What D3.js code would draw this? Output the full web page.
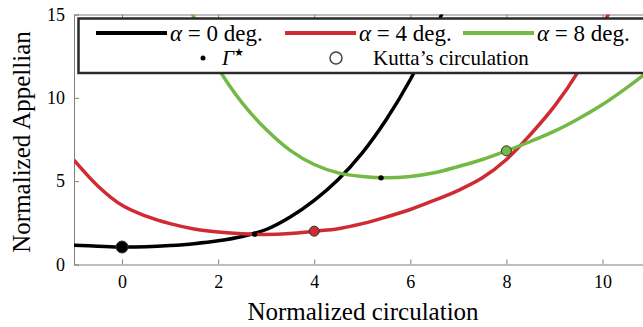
<!DOCTYPE html>
<html>
<head>
<meta charset="utf-8">
<script src="https://cdn.jsdelivr.net/npm/d3@7"></script>
<style>
  body { margin: 0; background: #fff; }
  svg { display: block; font-family: "Liberation Serif", "DejaVu Serif", serif; }
  .axis text { font-size: 18px; fill: #000; font-family: "Liberation Serif", serif; }
  .axis line, .axis path { stroke: #808080; }
</style>
</head>
<body>
<div id="chart"></div>
<script>
// values
const xTicks = [0, 2, 4, 6, 8, 10];
const yTicks = [0, 5, 10, 15];

const alpha0X = [-1, -0.5, 0, 0.5, 1, 1.5, 2, 2.5, 3, 3.5, 4, 4.5, 5, 5.5, 6, 6.5, 7];
const alpha0Y = [1.16, 1.1, 1.05, 1.07, 1.14, 1.25, 1.42, 1.68, 2.1, 2.85, 3.85, 5.1, 6.7, 8.7, 11.1, 14.0, 17.5];

const alpha4X = [-1, -0.5, 0, 0.5, 1, 1.5, 2, 2.5, 3, 3.5, 4, 4.5, 5, 5.5, 6, 6.5, 7, 7.5, 8, 8.5, 9, 9.5, 10, 10.5];
const alpha4Y = [6.26, 4.7, 3.55, 2.9, 2.45, 2.13, 1.95, 1.84, 1.8, 1.86, 2.0, 2.15, 2.45, 2.85, 3.3, 3.85, 4.45, 5.2, 6.3, 7.8, 9.5, 11.6, 14.3, 17.5];

const alpha8X = [1, 1.5, 2, 2.5, 3, 3.5, 4, 4.5, 5, 5.5, 6, 6.5, 7, 7.5, 8, 8.5, 9, 9.5, 10, 10.5, 11, 11.5];
const alpha8Y = [18, 14.8, 11.8, 9.7, 8.1, 6.85, 6.0, 5.5, 5.28, 5.2, 5.28, 5.5, 5.88, 6.3, 6.82, 7.38, 8.0, 8.75, 9.6, 10.6, 11.7, 12.9];

const seriesNames = ['α = 0 deg.', 'α = 4 deg.', 'α = 8 deg.'];
const seriesColors = ['#000000', '#d02a33', '#73b944'];

// Gamma* (small dots) and Kutta's circulation (circles)
const gammaStarX = [0, 2.76, 5.39];
const gammaStarY = [1.05, 1.82, 5.2];
const kuttaX = [0, 4, 8];
const kuttaY = [1.05, 2.0, 6.82];

const width = 643;
const height = 327;

const x = d3.scaleLinear().domain([-1, 11.5]).range([74, 674.6]);
const y = d3.scaleLinear().domain([0, 15]).range([264.5, 14.5]);

const svg = d3.select('#chart').append('svg')
  .attr('width', width)
  .attr('height', height);

svg.append('clipPath').attr('id', 'plot-clip')
  .append('rect')
  .attr('x', x(-1)).attr('y', y(15))
  .attr('width', x(11.5) - x(-1)).attr('height', y(0) - y(15));

// axes, ticks point inward
svg.append('g').attr('class', 'axis')
  .attr('transform', `translate(0, ${y(0)})`)
  .call(d3.axisBottom(x).tickValues(xTicks).tickSizeInner(-5).tickSizeOuter(0).tickPadding(11));

svg.append('g').attr('class', 'axis')
  .attr('transform', `translate(0, ${y(15)})`)
  .call(d3.axisTop(x).tickValues(xTicks).tickSizeInner(-5).tickSizeOuter(0).tickFormat(''));

svg.append('g').attr('class', 'axis')
  .attr('transform', `translate(${x(-1)}, 0)`)
  .call(d3.axisLeft(y).tickValues(yTicks).tickSizeInner(-5).tickSizeOuter(0).tickPadding(9));

// curves
const seriesX = [alpha0X, alpha4X, alpha8X];
const seriesY = [alpha0Y, alpha4Y, alpha8Y];
const line = d3.line()
  .x((d) => x(d[0]))
  .y((d) => y(d[1]))
  .curve(d3.curveCatmullRom);

const plot = svg.append('g').attr('clip-path', 'url(#plot-clip)');

seriesX.forEach((xs, i) => {
  const pts = xs.map((v, j) => [v, seriesY[i][j]]);
  plot.append('path')
    .attr('d', line(pts))
    .attr('fill', 'none')
    .attr('stroke', seriesColors[i])
    .attr('stroke-width', 3.5);
});

plot.selectAll('circle.kutta')
  .data(kuttaX)
  .enter().append('circle')
  .attr('class', 'kutta')
  .attr('cx', (d) => x(d))
  .attr('cy', (d, i) => y(kuttaY[i]))
  .attr('r', (d, i) => i === 0 ? 6 : 5)
  .attr('fill', (d, i) => seriesColors[i])
  .attr('stroke', '#333')
  .attr('stroke-width', 1);

plot.selectAll('circle.gstar')
  .data(gammaStarX)
  .enter().append('circle')
  .attr('class', 'gstar')
  .attr('cx', (d) => x(d))
  .attr('cy', (d, i) => y(gammaStarY[i]))
  .attr('r', 2.7)
  .attr('fill', '#000');

// legend
const legend = svg.append('g');
legend.append('rect')
  .attr('x', 78.5).attr('y', 18.5)
  .attr('width', 600).attr('height', 54.5)
  .attr('fill', '#fff')
  .attr('stroke', '#2a2a2a')
  .attr('stroke-width', 2.5);

const legendLineX = [96, 285, 463];
seriesNames.forEach((name, i) => {
  legend.append('line')
    .attr('x1', legendLineX[i]).attr('x2', legendLineX[i] + 71)
    .attr('y1', 33).attr('y2', 33)
    .attr('stroke', seriesColors[i])
    .attr('stroke-width', 4);
  const t = legend.append('text')
    .attr('x', legendLineX[i] + 74).attr('y', 41)
    .attr('font-size', 23);
  t.append('tspan').attr('font-style', 'italic').text(name.slice(0, 1));
  t.append('tspan').text(name.slice(1));
});

legend.append('circle').attr('cx', 203).attr('cy', 58).attr('r', 2.5).attr('fill', '#000');
const g = legend.append('text').attr('x', 222).attr('y', 65).attr('font-size', 21);
g.append('tspan').attr('font-style', 'italic').text('Γ');
g.append('tspan').attr('font-size', 11).attr('dy', -9).text('★');

legend.append('circle').attr('cx', 336).attr('cy', 58).attr('r', 6)
  .attr('fill', '#fff').attr('stroke', '#444').attr('stroke-width', 1.5);
legend.append('text').attr('x', 373).attr('y', 65).attr('font-size', 21).text('Kutta’s circulation');

// axis titles
svg.append('text')
  .attr('x', 363).attr('y', 320)
  .attr('text-anchor', 'middle')
  .attr('font-size', 25)
  .text('Normalized circulation');

svg.append('text')
  .attr('transform', 'translate(30, 142) rotate(-90)')
  .attr('text-anchor', 'middle')
  .attr('font-size', 25)
  .text('Normalized Appellian');
</script>
</body>
</html>
